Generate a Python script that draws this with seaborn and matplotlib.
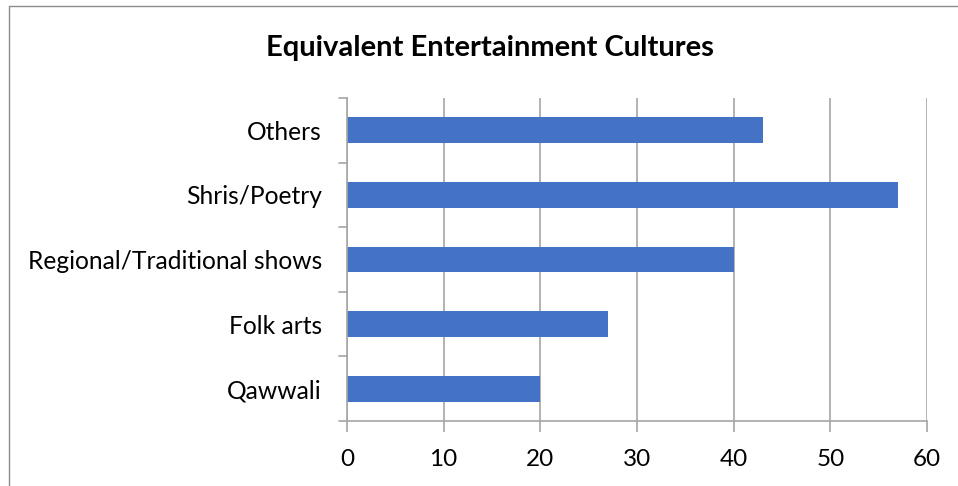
import matplotlib
matplotlib.use("Agg")
import matplotlib.pyplot as plt
import seaborn as sns
import pandas as pd
from matplotlib.lines import Line2D

categories = ["Others", "Shris/Poetry", "Regional/Traditional shows", "Folk arts", "Qawwali"]
values = [43, 57, 40, 27, 20]
x_ticks = [0, 10, 20, 30, 40, 50, 60]

df = pd.DataFrame({"category": categories, "value": values})

sns.set_theme(style="white")
plt.rcParams["font.family"] = ["Lato", "DejaVu Sans"]

fig = plt.figure(figsize=(9.58, 4.86), dpi=100)
ax = fig.add_axes([347 / 958, 1 - 421 / 486, 580 / 958, 323 / 486])

sns.barplot(data=df, x="value", y="category", order=categories, orient="h",
            color="#4472C4", saturation=1, width=0.4, ax=ax, edgecolor="none")

ax.set_xlim(0, 60)
ax.set_ylim(len(categories) - 0.5, -0.5)
ax.set_xticks(x_ticks)
ax.set_xticklabels([str(t) for t in x_ticks], fontsize=17.5, color="#000000")
ax.set_yticks(range(len(categories)))
ax.set_yticklabels(categories, fontsize=17.7, color="#000000")
ax.set_xlabel("")
ax.set_ylabel("")

grid_col = "#A6A6A6"
ax.xaxis.grid(True, color=grid_col, linewidth=1.2)
ax.yaxis.grid(False)
ax.set_axisbelow(True)
for side in ["top", "right"]:
    ax.spines[side].set_visible(False)
for side in ["left", "bottom"]:
    ax.spines[side].set_color(grid_col)
    ax.spines[side].set_linewidth(1.2)

# x ticks pointing down, y ticks on category boundaries (left side)
ax.tick_params(axis="x", length=8, width=1.2, color=grid_col, pad=12, bottom=True)
ax.tick_params(axis="y", length=0, pad=18, left=True)
for b in [i - 0.5 for i in range(len(categories) + 1)]:
    ax.plot([-0.8, 0], [b, b], color=grid_col, linewidth=1.2, clip_on=False, zorder=3)

fig.suptitle("Equivalent Entertainment Cultures", x=490 / 958, y=1 - 48 / 486,
             va="center", fontsize=21, fontweight="bold", color="#000000")

# chart frame
fig.add_artist(Line2D([9 / 958, 9 / 958], [0, 1 - 6 / 486], transform=fig.transFigure,
                      color="#8C8C8C", linewidth=1))
fig.add_artist(Line2D([9 / 958, 1], [1 - 6 / 486, 1 - 6 / 486], transform=fig.transFigure,
                      color="#8C8C8C", linewidth=1))

fig.savefig("out.png", dpi=100)
